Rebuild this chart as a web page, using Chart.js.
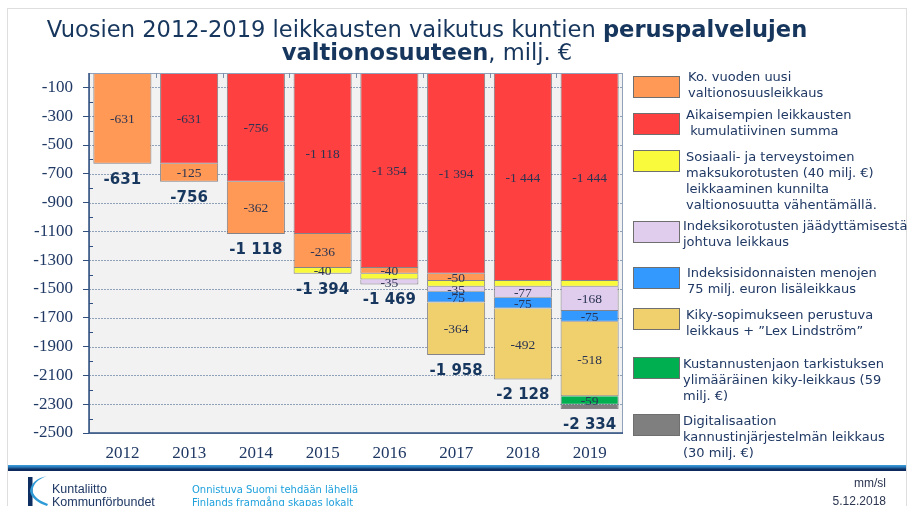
<!DOCTYPE html>
<html><head><meta charset="utf-8">
<script src="https://cdn.jsdelivr.net/npm/chart.js@4.4.1/dist/chart.umd.min.js"></script>
<style>
html,body{margin:0;padding:0;background:#fff;}
body{width:911px;height:506px;position:relative;overflow:hidden;font-family:"DejaVu Sans",Verdana,sans-serif;}
#frame{position:absolute;left:7px;top:8px;width:898px;height:520px;border:1px solid #dedede;}
#chart{position:absolute;left:0;top:0;}
.t{position:absolute;left:0;width:854px;text-align:center;color:#17365D;font-size:22.6px;line-height:22.6px;white-space:nowrap;}
.lg-box{position:absolute;left:633px;width:45px;height:20px;border:1px solid #6f6f6f;}
.lg-txt{position:absolute;font-size:13px;line-height:16px;color:#1F3864;white-space:pre;}
#stripe{position:absolute;left:8px;top:465px;width:898px;height:6px;background:linear-gradient(to bottom,#3aa0dc 0%,#2a78b8 35%,#0d2f62 70%,#0b2a5a 100%);}
.ft{position:absolute;white-space:nowrap;}
</style></head>
<body>
<div id="frame"></div>
<canvas id="chart" width="911" height="506"></canvas>
<div class="t" style="top:18px">Vuosien 2012-2019 leikkausten vaikutus kuntien <b>peruspalvelujen</b></div>
<div class="t" style="top:41px"><b>valtionosuuteen</b>, milj. €</div>
<div id="legend"></div>
<div id="stripe"></div>
<svg style="position:absolute;left:0;top:470px" width="60" height="36">
  <rect x="28" y="7" width="4.5" height="29" fill="#0d2f62"/>
  <path d="M47 6 C38 9 33 14 32.5 21 C34 27 40 31 48 34 L47 36 C38 33 31 28 30 21 C31 13 37 8 47 6 Z" fill="#2f9bd6"/>
</svg>
<div class="ft" style="left:52px;top:482px;font-family:'Liberation Sans',Arial,sans-serif;font-size:12.5px;color:#1F3864;">Kuntaliitto</div>
<div class="ft" style="left:52px;top:495px;font-family:'Liberation Sans',Arial,sans-serif;font-size:12.5px;color:#1F3864;">Kommunförbundet</div>
<div class="ft" style="left:192px;top:484px;font-size:10px;color:#1EA0DC;">Onnistuva Suomi tehdään lähellä</div>
<div class="ft" style="left:192px;top:497px;font-size:10px;color:#1EA0DC;">Finlands framgång skapas lokalt</div>
<div class="ft" style="right:25px;top:476px;font-family:'Liberation Sans Narrow','Liberation Sans',sans-serif;font-size:12px;color:#2b3550;">mm/sl</div>
<div class="ft" style="right:25px;top:494px;font-family:'Liberation Sans Narrow','Liberation Sans',sans-serif;font-size:12px;color:#2b3550;">5.12.2018</div>
<script>
// ---- data ----
const years = ['2012','2013','2014','2015','2016','2017','2018','2019'];
const newCut      = [-631, -125, -362, -236, -40, -50, null, null];
const cumulative  = [null, -631, -756, -1118, -1354, -1394, -1444, -1444];
const socialFees  = [null, null, null, -40, -40, -40, -40, -40];
const indexFreeze = [null, null, null, null, -35, -35, -77, -168];
const indexLinked = [null, null, null, null, null, -75, -75, -75];
const kikyCut     = [null, null, null, null, null, -364, -492, -518];
const costSplit   = [null, null, null, null, null, null, null, -59];
const digitalCut  = [null, null, null, null, null, null, null, -30];
const yTicks = [-100,-300,-500,-700,-900,-1100,-1300,-1500,-1700,-1900,-2100,-2300,-2500];
const minorTicks = [-200,-400,-600,-800,-1000,-1200,-1400,-1600,-1800,-2000,-2200,-2400];
const socialLabelYears = ['2015'];

const nameNew = 'Ko. vuoden uusi\nvaltionosuusleikkaus';
const nameCum = 'Aikaisempien leikkausten\n kumulatiivinen summa';
const nameSoc = 'Sosiaali- ja terveystoimen\nmaksukorotusten (40 milj. €)\nleikkaaminen kunnilta\nvaltionosuutta vähentämällä.';
const nameFrz = 'Indeksikorotusten jäädyttämisestä\njohtuva leikkaus';
const nameLnk = 'Indeksisidonnaisten menojen\n75 milj. euron lisäleikkaus';
const nameKiky = 'Kiky-sopimukseen perustuva\nleikkaus + ”Lex Lindström”';
const nameCost = 'Kustannustenjaon tarkistuksen\nylimääräinen kiky-leikkaus (59\nmilj. €)';
const nameDig = 'Digitalisaation\nkannustinjärjestelmän leikkaus\n(30 milj. €)';

const C = {new:'#FF9955', cum:'#FF4040', soc:'#FAFA3C', frz:'#E0CCEC', lnk:'#3399FF', kiky:'#F0D06C', cost:'#00B050', dig:'#7F7F7F'};

// stacking order (top to bottom)
const series = [
  {label:nameCum, data:cumulative, color:C.cum, mask:years.map(()=>true)},
  {label:nameNew, data:newCut, color:C.new, mask:years.map(()=>true)},
  {label:nameSoc, data:socialFees, color:C.soc, mask:years.map(y=>socialLabelYears.includes(y))},
  {label:nameFrz, data:indexFreeze, color:C.frz, mask:years.map(()=>true)},
  {label:nameLnk, data:indexLinked, color:C.lnk, mask:years.map(()=>true)},
  {label:nameKiky, data:kikyCut, color:C.kiky, mask:years.map(()=>true)},
  {label:nameCost, data:costSplit, color:C.cost, mask:years.map(()=>true)},
  {label:nameDig, data:digitalCut, color:C.dig, mask:years.map(()=>false)}
];

// ---- legend (HTML, legend order) ----
const legendItems = [
  {name:nameNew, color:C.new}, {name:nameCum, color:C.cum}, {name:nameSoc, color:C.soc},
  {name:nameFrz, color:C.frz}, {name:nameLnk, color:C.lnk}, {name:nameKiky, color:C.kiky},
  {name:nameCost, color:C.cost}, {name:nameDig, color:C.dig}
];
const legendLayout = [
  {box:76, text:69, x:688}, {box:113, text:107, x:686}, {box:150, text:149, x:686},
  {box:221, text:218, x:683}, {box:267, text:265, x:687}, {box:308, text:307, x:686},
  {box:357, text:356, x:683}, {box:414, text:413, x:683}
];
const lg = document.getElementById('legend');
legendItems.forEach((it,i)=>{
  const L = legendLayout[i];
  const b = document.createElement('div'); b.className='lg-box';
  b.style.top = L.box+'px'; b.style.background = it.color; lg.appendChild(b);
  const t = document.createElement('div'); t.className='lg-txt';
  t.style.top = L.text+'px'; t.style.left = L.x+'px'; t.textContent = it.name; lg.appendChild(t);
});

function fmt(v){
  const s = Math.abs(Math.round(v)).toString().replace(/\B(?=(\d{3})+(?!\d))/g,' ');
  return (v<0?'-':'')+s;
}

const NAVY = '#1F3864';
const plotDeco = {
  id:'plotDeco',
  beforeDatasetsDraw(chart){
    const {ctx, chartArea:a, scales:{y}} = chart;
    ctx.save();
    ctx.fillStyle = '#F2F2F2';
    ctx.fillRect(a.left, a.top, a.right-a.left, a.bottom-a.top);
    ctx.strokeStyle = '#8FA2BA'; ctx.lineWidth = 1; ctx.setLineDash([2,1]);
    yTicks.forEach(v=>{
      const py = Math.round(y.getPixelForValue(v))+0.5;
      ctx.beginPath(); ctx.moveTo(a.left, py); ctx.lineTo(a.right, py); ctx.stroke();
    });
    ctx.restore();
  },
  afterDatasetsDraw(chart){
    const {ctx, chartArea:a, scales:{x,y}} = chart;
    ctx.save();
    // segment labels
    ctx.font = '13.5px "Liberation Serif","Times New Roman",serif';
    ctx.fillStyle = '#2A3352'; ctx.textAlign='center'; ctx.textBaseline='middle';
    chart.data.datasets.forEach((ds,di)=>{
      const meta = chart.getDatasetMeta(di);
      meta.data.forEach((el,i)=>{
        const v = ds.data[i];
        if (v==null || !ds.mask[i]) return;
        const p = el.getProps(['x','y','base'], true);
        ctx.fillText(fmt(v), p.x, (p.y+p.base)/2+1);
      });
    });
    // totals
    ctx.font = 'bold 15px "DejaVu Sans",Verdana,sans-serif';
    ctx.fillStyle = '#17375E';
    years.forEach((yr,i)=>{
      let tot = 0;
      series.forEach(s=>{ if (s.data[i]!=null) tot += s.data[i]; });
      ctx.fillText(fmt(tot), x.getPixelForValue(i), y.getPixelForValue(tot)+16);
    });
    // plot frame
    ctx.setLineDash([]);
    ctx.strokeStyle = '#8FA2BA'; ctx.lineWidth = 1;
    ctx.strokeRect(a.left+0.5, a.top+0.5, a.right-a.left-1, a.bottom-a.top);
    ctx.strokeStyle = '#2F4F80'; ctx.lineWidth = 1.5;
    ctx.beginPath(); ctx.moveTo(a.left, a.top); ctx.lineTo(a.left, a.bottom); ctx.lineTo(a.right, a.bottom); ctx.stroke();
    ctx.lineWidth = 1;
    minorTicks.forEach(v=>{
      const py = Math.round(y.getPixelForValue(v))+0.5;
      ctx.beginPath(); ctx.moveTo(a.left, py); ctx.lineTo(a.left+4, py); ctx.stroke();
    });
    // category boundary ticks on top axis
    ctx.strokeStyle = '#7D8FA8';
    for (let i=1;i<years.length;i++){
      const px = Math.round((x.getPixelForValue(i-1)+x.getPixelForValue(i))/2)+0.5;
      ctx.beginPath(); ctx.moveTo(px, a.top); ctx.lineTo(px, a.top+5); ctx.stroke();
    }
    ctx.restore();
  }
};

new Chart(document.getElementById('chart'), {
  type:'bar',
  data:{
    labels: years,
    datasets: series.map(s=>({
      label:s.label, data:s.data, mask:s.mask,
      backgroundColor:s.color, borderColor:'rgba(70,70,80,0.65)', borderWidth:1,
      barPercentage:0.87, categoryPercentage:1
    }))
  },
  options:{
    responsive:false, animation:false, devicePixelRatio:1,
    layout:{padding:{left:0, right:288, top:73, bottom:43}},
    plugins:{legend:{display:false}, title:{display:false}, tooltip:{enabled:false}},
    scales:{
      x:{stacked:true, grid:{display:false, drawTicks:false}, border:{display:false},
         ticks:{font:{family:'"Liberation Serif","Times New Roman",serif', size:17}, color:NAVY, padding:10},
         afterFit(s){ s.height = 30; }},
      y:{stacked:true, min:-2500, max:0,
         afterBuildTicks(s){ s.ticks = yTicks.map(v=>({value:v})); },
         grid:{drawOnChartArea:false, drawTicks:true, tickLength:6, tickColor:'#2F4F80', tickWidth:1},
         border:{display:false},
         ticks:{font:{family:'"Liberation Serif","Times New Roman",serif', size:17}, color:NAVY, padding:10,
                callback:(v)=>String(v), autoSkip:false},
         afterFit(s){ s.width = 89; }}
    }
  },
  plugins:[plotDeco]
});
</script>
</body></html>
